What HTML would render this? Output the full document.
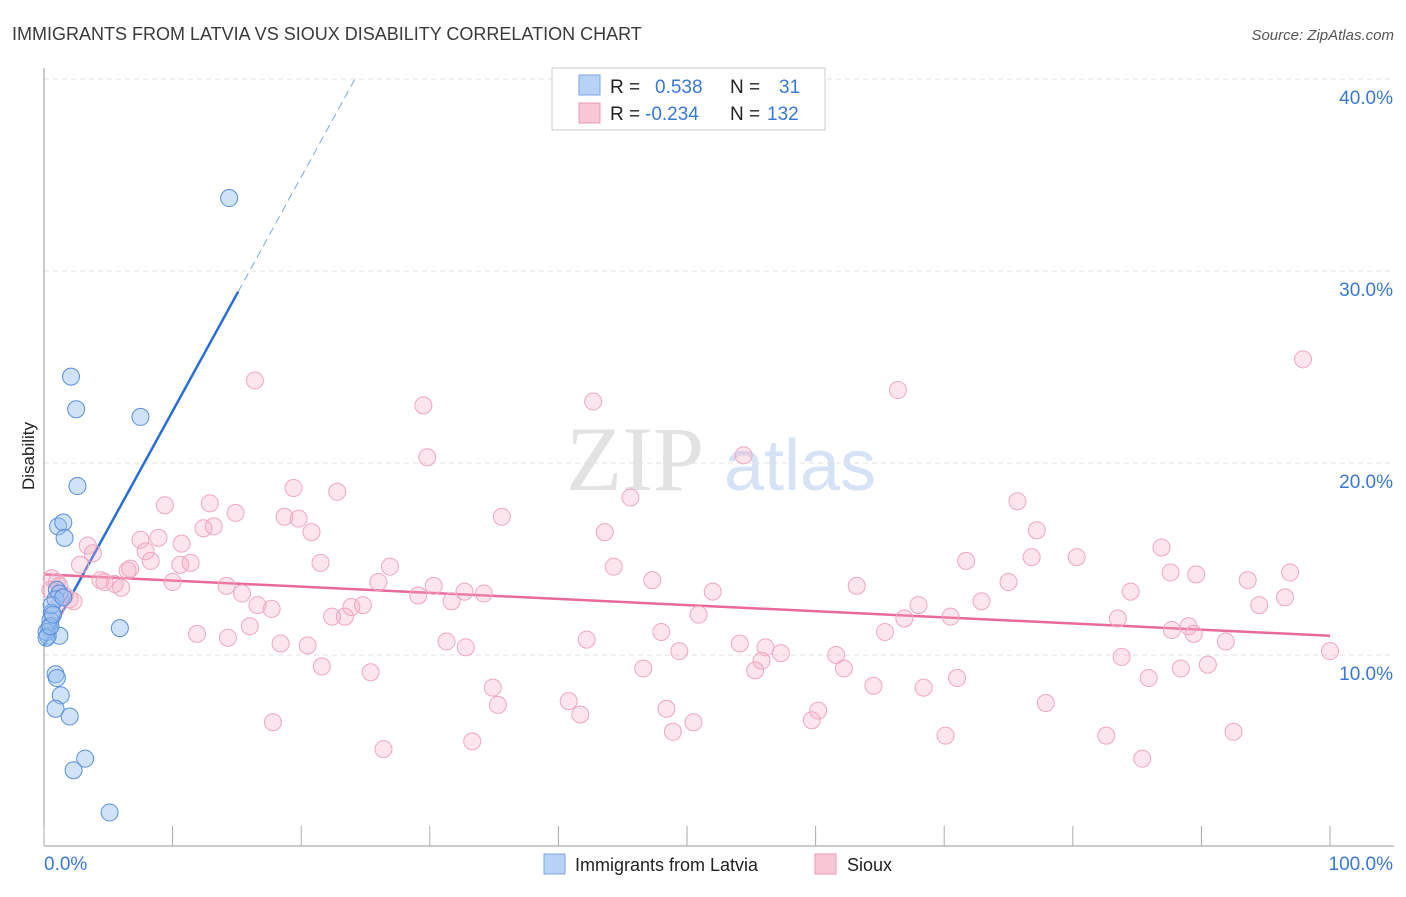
<!DOCTYPE html>
<html><head><meta charset="utf-8"><style>
body{margin:0;background:#fff;font-family:"Liberation Sans",sans-serif;}
</style></head><body>
<svg width="1406" height="892" xmlns="http://www.w3.org/2000/svg" id="chart">
<text x="12" y="40" font-size="18" fill="#3a3a3a">IMMIGRANTS FROM LATVIA VS SIOUX DISABILITY CORRELATION CHART</text>
<text x="1394" y="40" font-size="15" fill="#555" font-style="italic" text-anchor="end">Source: ZipAtlas.com</text>
<g>
<text x="635" y="490" font-size="92" fill="#e2e2e2" font-family="Liberation Serif,serif" text-anchor="middle">ZIP</text>
<text x="800" y="490" font-size="72" fill="#d6e3f6" text-anchor="middle">atlas</text>
</g>
<g id="grid"></g><g id="axes"></g>
<text transform="translate(34,456) rotate(-90)" font-size="17" fill="#222" text-anchor="middle">Disability</text>
<g id="lines"></g><g id="pts"></g>
<g>
<rect x="552" y="68" width="273" height="62" fill="#fff" stroke="#ccc"/>
<rect x="579" y="75" width="21" height="20" fill="#b8d2f5" stroke="#7aa6e4"/>
<rect x="579" y="103" width="21" height="20" fill="#f9c6d6" stroke="#ec9ab6"/>
<text x="610" y="93" font-size="19" fill="#222">R =</text>
<text x="655" y="93" font-size="19" fill="#3a78d8">0.538</text>
<text x="730" y="93" font-size="19" fill="#222">N =</text>
<text x="779" y="93" font-size="19" fill="#3a78d8">31</text>
<text x="610" y="120" font-size="19" fill="#222">R =</text>
<text x="645" y="120" font-size="19" fill="#3a78d8">-0.234</text>
<text x="730" y="120" font-size="19" fill="#222">N =</text>
<text x="767" y="120" font-size="19" fill="#3a78d8">132</text>
</g>
<g>
<rect x="544" y="854" width="21" height="20" fill="#b8d2f5" stroke="#7aa6e4"/>
<text x="575" y="871" font-size="18" fill="#222">Immigrants from Latvia</text>
<rect x="815" y="854" width="21" height="20" fill="#f9c6d6" stroke="#ec9ab6"/>
<text x="847" y="871" font-size="18" fill="#222">Sioux</text>
</g>
</svg>
<script>
const yTicks=[10,20,30,40];
const yTickLabels=["10.0%","20.0%","30.0%","40.0%"];
const xTickLabels=["0.0%","100.0%"];
const blueX=[14.4,2.1,2.5,7.5,2.6,1.1,1.5,1.6,1.0,1.2,0.9,0.6,0.5,0.4,0.3,1.2,5.9,0.9,1.0,1.3,0.9,2.0,3.2,2.3,5.1,0.6,0.2,0.2,0.5,1.5,0.7];
const blueY=[33.8,24.5,22.8,22.4,18.8,16.7,16.9,16.1,13.4,13.2,12.9,12.2,11.8,11.4,11.0,11.0,11.4,9.0,8.8,7.9,7.2,6.8,4.6,4.0,1.8,12.6,11.2,10.9,11.5,13.0,12.1];
const pinkX=[97.9,66.4,16.4,29.5,42.7,54.4,29.8,19.4,22.8,45.6,9.4,12.9,75.7,14.9,35.6,18.7,19.8,12.4,13.2,77.2,43.6,20.8,7.5,8.9,10.7,3.4,3.8,7.9,86.9,80.3,71.7,76.8,8.3,10.6,11.4,21.5,2.8,26.9,44.3,87.6,89.6,96.9,93.6,6.7,6.5,4.4,4.7,5.5,6.0,10.0,14.2,26.0,30.3,47.3,63.2,75.0,52.0,32.7,34.2,29.1,15.4,84.5,96.5,31.7,16.6,68.0,94.5,17.7,72.9,23.9,24.8,50.9,22.4,23.4,70.5,66.9,83.5,16.0,89.0,87.7,89.4,48.0,65.4,11.9,14.3,42.2,91.9,31.3,32.8,54.1,18.4,20.5,56.1,57.3,49.4,61.6,100.0,83.8,55.8,21.6,62.2,46.6,55.3,25.4,90.5,88.4,85.9,71.0,64.5,68.4,34.9,40.8,35.3,77.9,48.4,60.2,41.7,17.8,59.7,50.5,48.9,70.1,92.5,82.6,33.3,26.4,85.4,0.6,1.0,1.6,0.5,2.0,2.3,1.2,0.9];
const pinkY=[25.4,23.8,24.3,23.0,23.2,20.4,20.3,18.7,18.5,18.2,17.8,17.9,18.0,17.4,17.2,17.2,17.1,16.6,16.7,16.5,16.4,16.4,16.0,16.1,15.8,15.7,15.3,15.4,15.6,15.1,14.9,15.1,14.9,14.7,14.8,14.8,14.7,14.6,14.6,14.3,14.2,14.3,13.9,14.5,14.4,13.9,13.8,13.7,13.5,13.8,13.6,13.8,13.6,13.9,13.6,13.8,13.3,13.3,13.2,13.1,13.2,13.3,13.0,12.8,12.6,12.6,12.6,12.4,12.8,12.5,12.6,12.1,12.0,12.0,12.0,11.9,11.9,11.5,11.5,11.3,11.1,11.2,11.2,11.1,10.9,10.8,10.7,10.7,10.4,10.6,10.6,10.5,10.4,10.1,10.2,10.0,10.2,9.9,9.7,9.4,9.3,9.3,9.2,9.1,9.5,9.3,8.8,8.8,8.4,8.3,8.3,7.6,7.4,7.5,7.2,7.1,6.9,6.5,6.6,6.5,6.0,5.8,6.0,5.8,5.5,5.1,4.6,14.0,13.8,13.1,13.4,12.9,12.8,13.6,12.4];
const blueLine=[10.5,1.22,15.1,24.2];
const pinkLine=[14.2,-0.032];
const sx=v=>44+v*12.86, sy=v=>847-v*19.2;
const NS="http://www.w3.org/2000/svg";
function mk(p,t,a){const e=document.createElementNS(NS,t);for(const k in a)e.setAttribute(k,a[k]);document.getElementById(p).appendChild(e);return e;}
yTicks.forEach((t,i)=>{
 const g=mk('grid','line',{x1:44,x2:1394,y1:sy(t),y2:sy(t),stroke:'#e2e2e2','stroke-dasharray':'5,4'});
 
 
 const l=mk('grid','text',{x:1393,y:sy(t)+25,'font-size':19,fill:'#3a78d8','text-anchor':'end'});
 l.textContent=yTickLabels[i];
 
 
});
mk('axes','line',{x1:44,x2:44,y1:68,y2:846,stroke:'#999'});
const xa=mk('axes','line',{x1:44,x2:1394,y1:846,y2:846,stroke:'#999'});


for(let i=0;i<=10;i++){mk('axes','line',{x1:sx(i*10),x2:sx(i*10),y1:826,y2:846,stroke:'#aaa'});}
const xl0=mk('axes','text',{x:44,y:870,'font-size':19,fill:'#3a78d8'});xl0.textContent=xTickLabels[0];


const xl1=mk('axes','text',{x:1393,y:870,'font-size':19,fill:'#3a78d8','text-anchor':'end'});xl1.textContent=xTickLabels[1];


pinkX.forEach((x,i)=>{const c=mk('pts','circle',{cx:sx(x),cy:sy(pinkY[i]),r:8.5,fill:'rgba(245,170,195,0.3)',stroke:'#f0a6c0','stroke-width':1});
 
 });
blueX.forEach((x,i)=>{const c=mk('pts','circle',{cx:sx(x),cy:sy(blueY[i]),r:8.5,fill:'rgba(150,190,240,0.45)',stroke:'#5a8fdc','stroke-width':1});
 
 });
const bl=x=>blueLine[0]+blueLine[1]*x;
const b1=mk('lines','line',{x1:sx(0),y1:sy(bl(0)),x2:sx(blueLine[2]),y2:sy(bl(blueLine[2])),stroke:'#2a6ed8','stroke-width':2.5});


const b2=mk('lines','line',{x1:sx(blueLine[2]),y1:sy(bl(blueLine[2])),x2:sx(blueLine[3]),y2:sy(bl(blueLine[3])),stroke:'#7aa6e4','stroke-width':1,'stroke-dasharray':'8,5'});


const p1=mk('lines','line',{x1:sx(0),y1:sy(pinkLine[0]),x2:sx(100),y2:sy(pinkLine[0]+pinkLine[1]*100),stroke:'#e8699a','stroke-width':2.5});


</script>
</body></html>
